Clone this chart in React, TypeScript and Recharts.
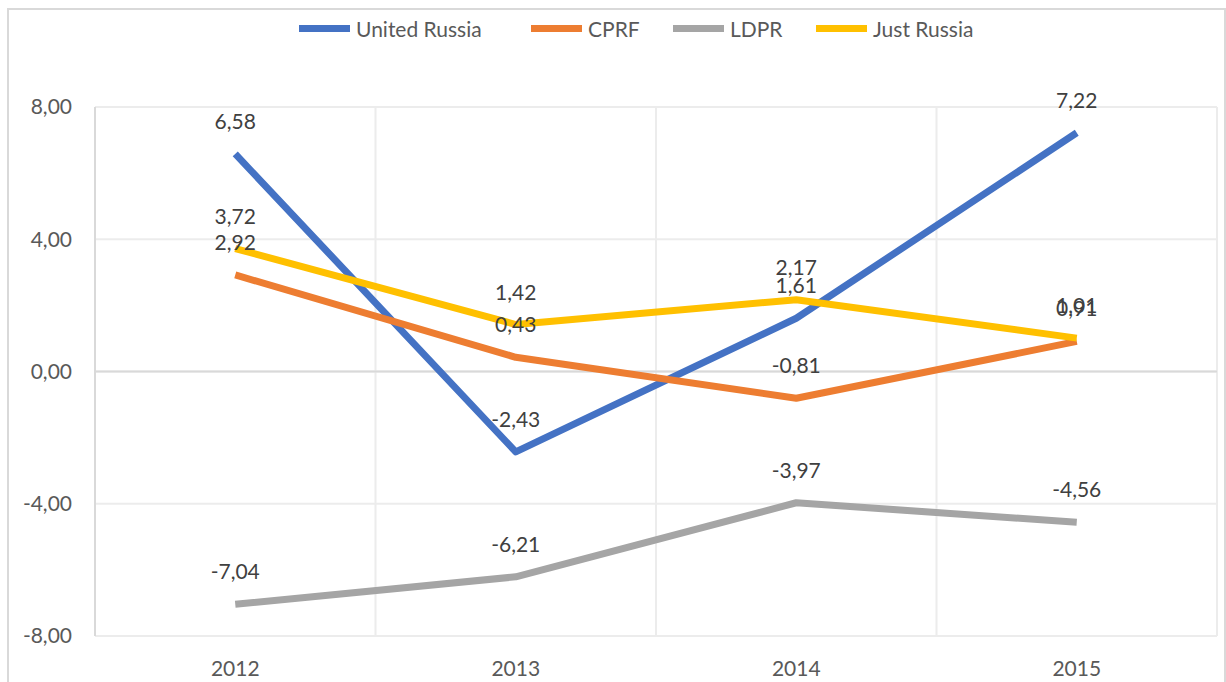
import { LineChart, Line, XAxis, YAxis, CartesianGrid, ReferenceLine, LabelList } from 'recharts'

const years = ['2012', '2013', '2014', '2015']
const unitedRussia = [6.58, -2.43, 1.61, 7.22]
const cprf = [2.92, 0.43, -0.81, 0.91]
const ldpr = [-7.04, -6.21, -3.97, -4.56]
const justRussia = [3.72, 1.42, 2.17, 1.01]
const yTicks = [-8, -4, 0, 4, 8]

const series = [
  { key: 'ur', name: 'United Russia', color: '#4472C4', values: unitedRussia },
  { key: 'cprf', name: 'CPRF', color: '#ED7D31', values: cprf },
  { key: 'ldpr', name: 'LDPR', color: '#A5A5A5', values: ldpr },
  { key: 'jr', name: 'Just Russia', color: '#FFC000', values: justRussia },
]

const data = years.map((year, i) => {
  const row: Record<string, string | number> = { year }
  series.forEach(s => { row[s.key] = s.values[i] })
  return row
})

const fmt = (v: number) => Number(v).toFixed(2).replace('.', ',')

// legend item left edges, px
const legendLeft = [299, 531, 673, 816]

export default function App() {
  return (
    <div style={{ position: 'absolute', left: 0, top: 0, width: 1226, height: 682, overflow: 'hidden', background: '#fff', fontFamily: 'Lato, sans-serif' }}>
      {/* outer chart frame */}
      <div style={{ position: 'absolute', left: 7, top: 8, width: 1215, height: 700, border: '2px solid #d9d9d9' }} />
      {series.map((s, i) => (
        <span
          key={s.key}
          style={{ position: 'absolute', left: legendLeft[i], top: 16, display: 'flex', alignItems: 'center', gap: 6, fontSize: 21, color: '#595959', whiteSpace: 'nowrap' }}
        >
          <span style={{ width: 51, height: 7, background: s.color, display: 'inline-block' }} />
          {s.name}
        </span>
      ))}
      <div style={{ position: 'absolute', left: 0, top: 0 }}>
        <LineChart width={1226} height={682} data={data} margin={{ top: 107, right: 9, bottom: 0, left: 0 }}>
          <CartesianGrid
            stroke="#ececec"
            strokeWidth={2}
            verticalCoordinatesGenerator={({ offset }: any) =>
              [0, 1, 2, 3, 4].map(i => offset.left + (i * offset.width) / years.length)
            }
          />
          <XAxis
            dataKey="year"
            scale="band"
            axisLine={false}
            tickLine={false}
            tickSize={0}
            tickMargin={25}
            height={46}
            tick={{ fill: '#595959', fontSize: 21 }}
          />
          <YAxis
            domain={[-8, 8]}
            ticks={yTicks}
            width={95}
            tickFormatter={fmt}
            tickLine={false}
            tickSize={0}
            tickMargin={23}
            axisLine={{ stroke: '#d9d9d9', strokeWidth: 2 }}
            tick={{ fill: '#595959', fontSize: 21 }}
          />
          <ReferenceLine y={0} stroke="#d9d9d9" strokeWidth={2} />
          {series.map(s => (
            <Line
              key={s.key}
              dataKey={s.key}
              name={s.name}
              stroke={s.color}
              strokeWidth={7}
              strokeLinejoin="round"
              dot={false}
              activeDot={false}
              isAnimationActive={false}
            >
              <LabelList dataKey={s.key} position="top" offset={25} formatter={fmt} fill="#404040" fontSize={21} />
            </Line>
          ))}
        </LineChart>
      </div>
    </div>
  )
}
